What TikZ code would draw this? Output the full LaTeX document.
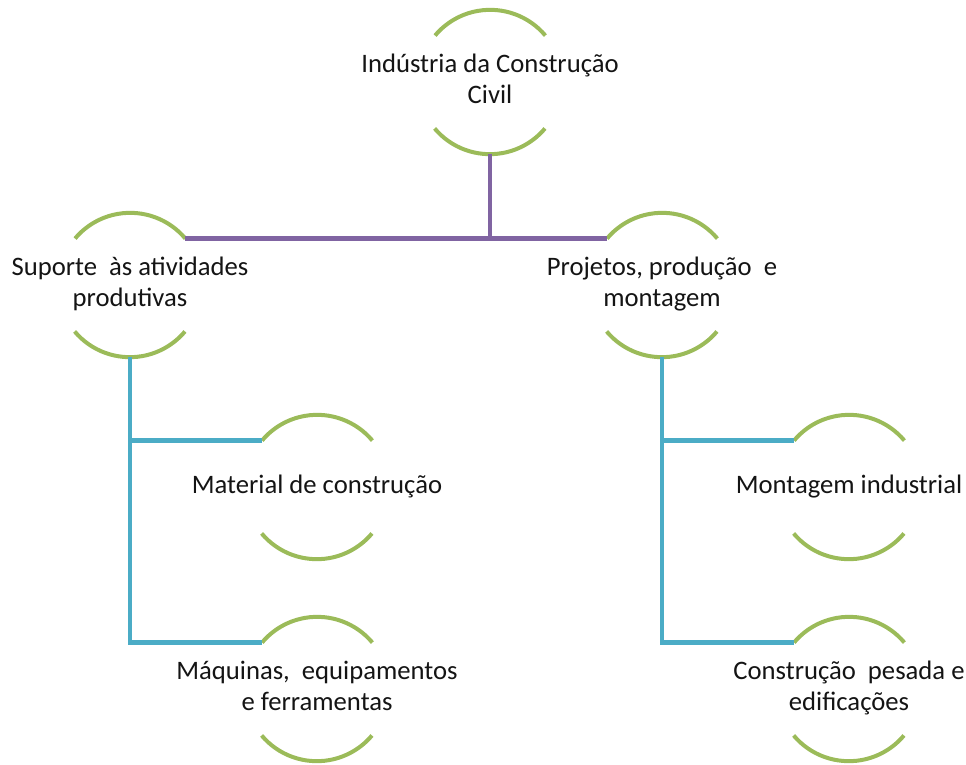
\documentclass[tikz,border=0pt]{standalone}
\usepackage{fontspec}
\setmainfont{Carlito}
\usetikzlibrary{positioning}
\definecolor{ringgreen}{RGB}{155,187,89}
\definecolor{linkpurple}{RGB}{128,100,162}
\definecolor{linkblue}{RGB}{75,172,198}
\newcommand{\ringtext}[1]{\makebox[0pt]{\begin{tabular}{@{}c@{}}#1\end{tabular}}}

\begin{document}
\begin{tikzpicture}
[
x=0.75pt, y=-0.75pt,
ring/.style={circle, minimum size=108pt, inner sep=0pt, text=black!92, node font=\fontsize{20}{23.3}\selectfont},
arcline/.style={draw=ringgreen, line width=3pt},
toplink/.style={draw=linkpurple, line width=3.5pt},
sublink/.style={draw=linkblue, line width=3.5pt},
]
\useasboundingbox (0,0) rectangle (966,764);

\node (ind) [ring] at (490,82) {\ringtext{Indústria da Construção\\Civil}};
\node (sup) [ring] at (130,285) {\ringtext{Suporte\ \ às atividades\\produtivas}};
\node (proj) [ring] at (662,285) {\ringtext{Projetos, produção\ \ e\\montagem}};
\node (mat) [ring] at (317,487) {\ringtext{Material de construção}};
\node (maq) [ring] at (317,689) {\ringtext{Máquinas,\ \ equipamentos\\e ferramentas}};
\node (mont) [ring] at (849,487) {\ringtext{Montagem industrial}};
\node (cons) [ring] at (849,689) {\ringtext{Construção\ \ pesada e\\edificações}};

% green half rings
\foreach \n in {ind,sup,proj,mat,maq,mont,cons}
{
\draw [arcline] (\n.40) arc [start angle=40, end angle=140, radius=54pt];
\draw [arcline] (\n.220) arc [start angle=220, end angle=320, radius=54pt];
}

\draw [toplink] (ind.south) -- (ind.south |- sup.40);
\draw [toplink] (sup.40) -- (proj.140);
\foreach \a / \b in {sup/mat,sup/maq,proj/mont,proj/cons}
{
\draw [sublink] (\a.south) |- (\b.140);
}
\end{tikzpicture}
\end{document}
